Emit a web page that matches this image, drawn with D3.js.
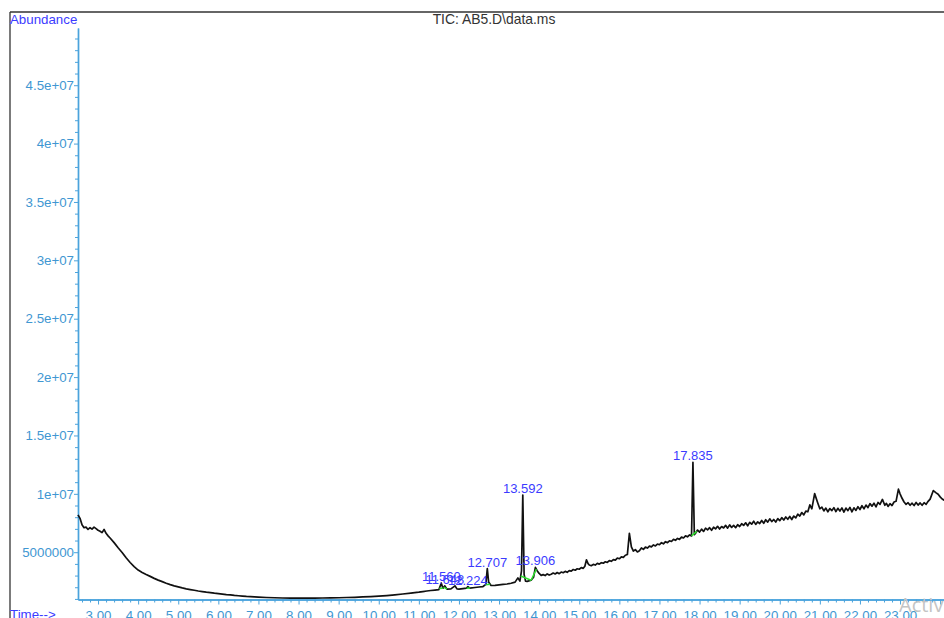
<!DOCTYPE html>
<html>
<head>
<meta charset="utf-8">
<script src="https://cdn.jsdelivr.net/npm/d3@7"></script>
<style>
  html, body { margin: 0; padding: 0; background: #fff; overflow: hidden; }
  svg { display: block; font-family: "Liberation Sans", Arial, Helvetica, sans-serif; }
</style>
</head>
<body>
<svg id="chart" width="944" height="618"></svg>
<script>
// Total ion chromatogram, retention time (min) vs abundance (millions of counts)
const timeMin = [
  2.50, 2.55, 2.60, 2.65, 2.70, 2.75, 2.80, 2.85, 2.90, 2.95,
  3.00, 3.05, 3.10, 3.15, 3.20, 3.25, 3.30, 3.40, 3.50, 3.60,
  3.70, 3.80, 3.90, 4.00, 4.10, 4.20, 4.30, 4.40, 4.50, 4.60,
  4.70, 4.80, 4.90, 5.00, 5.10, 5.20, 5.30, 5.40, 5.50, 5.60,
  5.70, 5.80, 5.90, 6.00, 6.10, 6.20, 6.30, 6.40, 6.50, 6.60,
  6.70, 6.80, 6.90, 7.00, 7.20, 7.40, 7.60, 7.80, 8.00, 8.20,
  8.40, 8.60, 8.80, 9.00, 9.20, 9.40, 9.60, 9.80, 10.00, 10.20,
  10.40, 10.60, 10.80, 11.00, 11.10, 11.20, 11.30, 11.40, 11.50, 11.56,
  11.60, 11.648, 11.70, 11.80, 11.90, 11.95, 12.00, 12.10, 12.19, 12.224,
  12.27, 12.40, 12.50, 12.60, 12.67, 12.707, 12.74, 12.80, 12.90, 13.00,
  13.10, 13.20, 13.30, 13.40, 13.47, 13.52, 13.56, 13.592, 13.625, 13.66,
  13.70, 13.80, 13.86, 13.906, 13.95,
  14.00, 14.05, 14.10, 14.15, 14.20, 14.25, 14.30, 14.35, 14.40, 14.45,
  14.50, 14.55, 14.60, 14.65, 14.70, 14.75, 14.80, 14.85, 14.90, 14.95,
  15.00, 15.05, 15.10, 15.14, 15.18, 15.22, 15.25, 15.30, 15.35, 15.40,
  15.45, 15.50, 15.55, 15.60, 15.65, 15.70, 15.75, 15.80, 15.85, 15.90,
  15.95, 16.00, 16.05, 16.10, 16.15, 16.20, 16.25, 16.30, 16.35, 16.40,
  16.45, 16.50, 16.55, 16.60, 16.65, 16.70, 16.75, 16.80, 16.85, 16.90,
  16.95, 17.00, 17.05, 17.10, 17.15, 17.20, 17.25, 17.30, 17.35, 17.40,
  17.45, 17.50, 17.55, 17.60, 17.65, 17.70, 17.75, 17.80, 17.835, 17.87,
  17.90, 17.95, 18.00, 18.05, 18.10, 18.15, 18.20, 18.25, 18.30, 18.35,
  18.40, 18.45, 18.50, 18.55, 18.60, 18.65, 18.70, 18.75, 18.80, 18.85,
  18.90, 18.95, 19.00, 19.05, 19.10, 19.15, 19.20, 19.25, 19.30, 19.35,
  19.40, 19.45, 19.50, 19.55, 19.60, 19.65, 19.70, 19.75, 19.80, 19.85,
  19.90, 19.95, 20.00, 20.05, 20.10, 20.15, 20.20, 20.25, 20.30, 20.35,
  20.40, 20.45, 20.50, 20.55, 20.60, 20.65, 20.70, 20.75, 20.80, 20.87,
  20.95, 21.00, 21.05, 21.10, 21.15, 21.20, 21.25, 21.30, 21.35, 21.40,
  21.45, 21.50, 21.55, 21.60, 21.65, 21.70, 21.75, 21.80, 21.85, 21.90,
  21.95, 22.00, 22.05, 22.10, 22.15, 22.20, 22.25, 22.30, 22.35, 22.40,
  22.45, 22.50, 22.56, 22.62, 22.66, 22.70, 22.75, 22.80, 22.85, 22.90,
  22.96, 23.00, 23.05, 23.10, 23.15, 23.20, 23.25, 23.30, 23.35, 23.40,
  23.45, 23.50, 23.55, 23.60, 23.65, 23.70, 23.75, 23.83, 23.90, 23.95,
  24.00, 24.05, 24.10, 24.15, 24.20
];
const abundanceM = [
  8.20, 7.90, 7.35, 7.10, 7.15, 6.95, 7.10, 6.98, 7.15, 7.02,
  6.88, 6.80, 6.68, 6.95, 6.62, 6.40, 6.22, 5.82, 5.38, 4.98,
  4.52, 4.12, 3.76, 3.47, 3.26, 3.09, 2.93, 2.76, 2.61, 2.48,
  2.34, 2.22, 2.12, 2.03, 1.94, 1.86, 1.80, 1.74, 1.68, 1.63,
  1.58, 1.54, 1.49, 1.45, 1.41, 1.37, 1.34, 1.30, 1.27, 1.24,
  1.21, 1.19, 1.17, 1.15, 1.12, 1.10, 1.08, 1.07, 1.07, 1.06,
  1.07, 1.08, 1.09, 1.10, 1.12, 1.14, 1.17, 1.20, 1.24, 1.29,
  1.35, 1.42, 1.50, 1.58, 1.63, 1.68, 1.72, 1.76, 1.80, 2.35,
  1.92, 2.12, 1.84, 1.86, 2.12, 1.86, 1.84, 1.88, 1.92, 2.05,
  1.93, 1.98, 2.02, 2.06, 2.25, 3.60, 2.45, 2.15, 2.16, 2.20,
  2.24, 2.28, 2.34, 2.44, 2.80, 2.52, 3.40, 9.90, 3.10, 2.52,
  2.50, 2.60, 2.85, 3.70, 3.42,
  3.18, 3.02, 3.08, 3.00, 3.14, 3.04, 3.12, 3.22, 3.14, 3.26,
  3.16, 3.30, 3.24, 3.36, 3.28, 3.42, 3.38, 3.52, 3.46, 3.58,
  3.54, 3.68, 3.62, 3.80, 4.35, 4.02, 3.90, 3.84, 3.96, 3.90,
  4.04, 3.98, 4.10, 4.06, 4.18, 4.12, 4.28, 4.22, 4.36, 4.32,
  4.50, 4.44, 4.60, 4.56, 4.74, 4.80, 6.62, 5.45, 5.10, 5.22,
  5.02, 5.12, 5.36, 5.24, 5.44, 5.36, 5.52, 5.46, 5.62, 5.54,
  5.70, 5.64, 5.82, 5.72, 5.90, 5.82, 5.98, 5.92, 6.10, 6.02,
  6.18, 6.10, 6.30, 6.22, 6.40, 6.32, 6.48, 6.40, 12.70, 6.50,
  6.62, 6.90, 6.72, 6.98, 6.78, 7.06, 6.92, 7.10, 6.88, 7.14,
  7.00, 7.22, 6.98, 7.20, 7.08, 7.30, 7.06, 7.34, 7.12, 7.30,
  7.10, 7.36, 7.20, 7.44, 7.30, 7.52, 7.26, 7.56, 7.40, 7.66,
  7.38, 7.60, 7.46, 7.72, 7.48, 7.78, 7.58, 7.86, 7.62, 7.80,
  7.58, 7.88, 7.70, 7.96, 7.76, 8.02, 7.82, 8.06, 7.80, 8.10,
  7.94, 8.26, 8.10, 8.40, 8.20, 8.52, 8.46, 9.05, 8.72, 10.02,
  9.20, 8.72, 8.86, 8.54, 8.78, 8.46, 8.74, 8.56, 8.82, 8.48,
  8.76, 8.52, 8.80, 8.44, 8.78, 8.56, 8.84, 8.46, 8.80, 8.58,
  8.90, 8.66, 8.98, 8.72, 9.04, 8.82, 9.16, 8.94, 9.20, 8.88,
  9.26, 9.10, 9.52, 9.02, 9.18, 8.92, 9.16, 9.00, 9.30, 9.36,
  10.40, 10.00, 9.62, 9.30, 9.10, 9.24, 9.02, 9.20, 9.00, 9.26,
  9.04, 9.22, 9.02, 9.24, 9.10, 9.36, 9.55, 10.28, 10.08, 9.96,
  9.74, 9.56, 9.46, 9.36, 9.48
];

// Integrated peaks: apex label and integration baseline start / end (min)
const peakTimes  = [11.560, 11.648, 12.224, 12.707, 13.592, 13.906, 17.835];
const peakLabels = ["11.560", "11.648", "12.224", "12.707", "13.592", "13.906", "17.835"];
const baseStart  = [11.51, 11.62, 12.19, 12.66, 13.54, 13.80, 17.80];
const baseEnd    = [11.60, 11.70, 12.28, 12.78, 13.80, 13.93, 17.93];

// Axis ticks
const xTickValues = [3, 4, 5, 6, 7, 8, 9, 10, 11, 12, 13, 14, 15, 16, 17, 18, 19, 20, 21, 22, 23];
const xTickLabels = ["3.00", "4.00", "5.00", "6.00", "7.00", "8.00", "9.00", "10.00", "11.00", "12.00",
                     "13.00", "14.00", "15.00", "16.00", "17.00", "18.00", "19.00", "20.00", "21.00",
                     "22.00", "23.00"];
const yTickValuesM = [5, 10, 15, 20, 25, 30, 35, 40, 45];
const yTickLabels  = ["5000000", "1e+07", "1.5e+07", "2e+07", "2.5e+07", "3e+07", "3.5e+07", "4e+07", "4.5e+07"];

const AXIS = "#4aa3dc";
const AXIS_TEXT = "#3f97d2";
const LABEL_BLUE = "#3b3bff";

const svg = d3.select("#chart");
const x = d3.scaleLinear().domain([2.5, 25]).range([78, 980.25]);
const y = d3.scaleLinear().domain([0.95, 49.9]).range([599.5, 28]);
const yBase = y.range()[0];

// Frame
svg.append("line").attr("x1", 10).attr("x2", 944).attr("y1", 12).attr("y2", 12)
  .attr("stroke", "#333").attr("stroke-width", 1.3);
svg.append("line").attr("x1", 10).attr("x2", 10).attr("y1", 12).attr("y2", 618)
  .attr("stroke", "#333").attr("stroke-width", 1.3);

// Title and axis captions
svg.append("text").attr("x", 494).attr("y", 24).attr("text-anchor", "middle")
  .attr("font-size", 13.9).attr("fill", "#333").text("TIC: AB5.D\\data.ms");
svg.append("text").attr("x", 10).attr("y", 23.5).attr("font-size", 13.3)
  .attr("fill", LABEL_BLUE).text("Abundance");
svg.append("text").attr("x", 10).attr("y", 619).attr("font-size", 13.3)
  .attr("fill", LABEL_BLUE).text("Time-->");

// Y axis: minor ticks every 1e6, labelled ticks every 5e6
const yMinor = d3.range(1, 50, 1).filter(v => v % 5 !== 0);
const gyMinor = svg.append("g").attr("transform", `translate(78,0)`)
  .call(d3.axisLeft(y).tickValues(yMinor).tickSize(3).tickSizeOuter(0).tickFormat(""));
const gy = svg.append("g").attr("transform", `translate(78,0)`)
  .call(d3.axisLeft(y).tickValues(yTickValuesM).tickSize(4).tickSizeOuter(0).tickPadding(0)
    .tickFormat((d, i) => yTickLabels[i]));

// X axis: minor ticks every 0.2 min, labelled ticks every minute
const xMinor = d3.range(13, 125).map(k => k / 5).filter(v => Math.abs(v - Math.round(v)) > 1e-6);
const gxMinor = svg.append("g").attr("transform", `translate(0,${yBase})`)
  .call(d3.axisBottom(x).tickValues(xMinor).tickSize(3).tickSizeOuter(0).tickFormat(""));
const gx = svg.append("g").attr("transform", `translate(0,${yBase})`)
  .call(d3.axisBottom(x).tickValues(xTickValues.concat([24])).tickSize(5).tickSizeOuter(0).tickPadding(6)
    .tickFormat((d, i) => i < xTickLabels.length ? xTickLabels[i] : ""));

[gyMinor, gy, gxMinor, gx].forEach(g => {
  g.selectAll("path.domain").attr("stroke", AXIS).attr("stroke-width", 1.4);
  g.selectAll(".tick line").attr("stroke", AXIS).attr("stroke-width", 1);
  g.selectAll(".tick text").attr("fill", AXIS_TEXT).attr("font-size", 13.3)
    .attr("font-family", "\"Liberation Sans\", Arial, sans-serif");
});

// Chromatogram trace
const series = d3.zip(timeMin, abundanceM);
const line = d3.line().x(d => x(d[0])).y(d => y(d[1]));
svg.append("path").datum(series)
  .attr("fill", "none").attr("stroke", "#111").attr("stroke-width", 1.7)
  .attr("stroke-linejoin", "round").attr("d", line);

// Linear lookup of the trace at any retention time
function valueAt(t) {
  const i = d3.bisectLeft(timeMin, t);
  if (i <= 0) return abundanceM[0];
  if (i >= timeMin.length) return abundanceM[abundanceM.length - 1];
  const t0 = timeMin[i - 1], t1 = timeMin[i];
  const f = (t - t0) / (t1 - t0);
  return abundanceM[i - 1] + f * (abundanceM[i] - abundanceM[i - 1]);
}

// Integration baselines
svg.append("g").selectAll("line").data(peakTimes).join("line")
  .attr("x1", (d, i) => x(baseStart[i])).attr("y1", (d, i) => y(valueAt(baseStart[i])))
  .attr("x2", (d, i) => x(baseEnd[i])).attr("y2", (d, i) => y(valueAt(baseEnd[i])))
  .attr("stroke", "#2ee02e").attr("stroke-width", 1.5);

// Peak retention time labels
svg.append("g").selectAll("text").data(peakTimes).join("text")
  .attr("x", d => x(d)).attr("y", d => y(valueAt(d)) - 2)
  .attr("text-anchor", "middle").attr("font-size", 13)
  .attr("fill", LABEL_BLUE).text((d, i) => peakLabels[i]);

// Screen watermark in the lower right corner
svg.append("text").attr("x", 899).attr("y", 612).attr("font-size", 20)
  .attr("fill", "#c4c4c4").attr("font-family", "\"Open Sans\", \"Liberation Sans\", sans-serif")
  .text("Activate Windows");
</script>
</body>
</html>
